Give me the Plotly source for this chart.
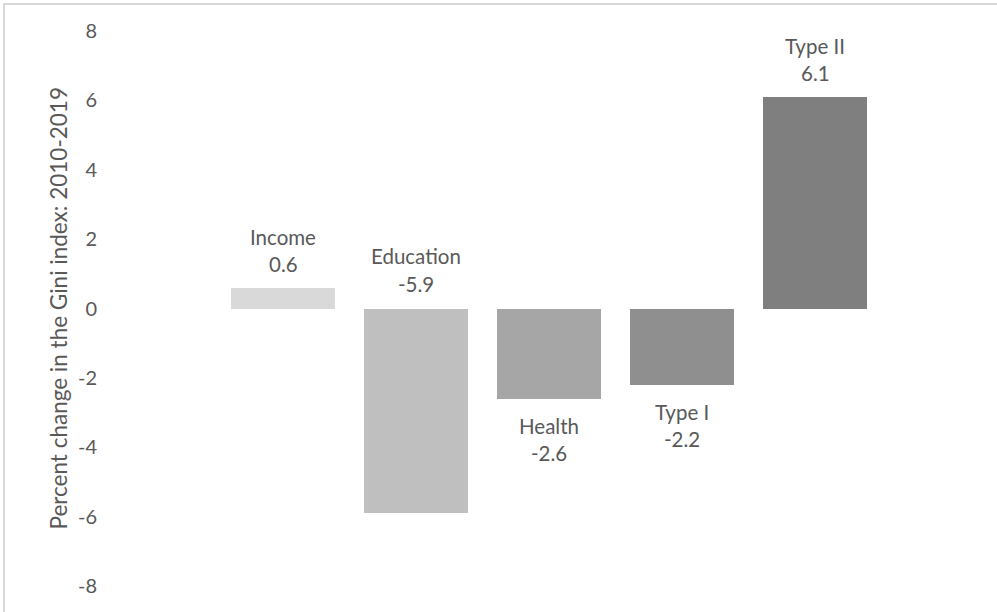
import plotly.graph_objects as go

categories = ["Income", "Education", "Health", "Type I", "Type II"]
values = [0.6, -5.9, -2.6, -2.2, 6.1]
value_labels = ["0.6", "-5.9", "-2.6", "-2.2", "6.1"]
colors = ["#D9D9D9", "#BFBFBF", "#A6A6A6", "#8F8F8F", "#7F7F7F"]
y_ticks = [-8, -6, -4, -2, 0, 2, 4, 6, 8]
y_title = "Percent change in the Gini index: 2010-2019"

W, H = 997, 612
L, R, T, B = 118, 47, 31, 26
pw = W - L - R
ph = H - T - B

FONT = "Lato, Open Sans, sans-serif"
TXT = "#595959"

xpos = list(range(len(categories)))

fig = go.Figure()
fig.add_trace(go.Bar(
    x=xpos, y=values, width=0.782,
    marker=dict(color=colors, line=dict(width=0)),
    hoverinfo="skip", showlegend=False,
))

# data labels (Education label sits just above the zero line, as in the source)
for i, (name, v, vl) in enumerate(zip(categories, values, value_labels)):
    if name == "Education":
        base = 0
        vshift, nshift = 25, 53
    elif v >= 0:
        base = v
        vshift, nshift = 23.5, 51
    else:
        base = v
        vshift, nshift = -54, -27
    fig.add_annotation(x=i, y=base, text=vl, showarrow=False, yanchor="middle",
                       yshift=vshift, font=dict(family=FONT, size=20.5, color=TXT))
    fig.add_annotation(x=i, y=base, text=name, showarrow=False, yanchor="middle",
                       yshift=nshift, font=dict(family=FONT, size=20.5, color=TXT))

# y-axis title
fig.add_annotation(xref="paper", yref="paper", x=(58 - L) / pw, y=0.5,
                   text=y_title, textangle=-90, showarrow=False,
                   xanchor="center", yanchor="middle",
                   font=dict(family=FONT, size=22.5, color=TXT))

# chart border
fig.add_shape(type="rect", xref="paper", yref="paper",
              x0=(4 - L) / pw, x1=(W + 10 - L) / pw,
              y0=(H - B - (H + 10)) / ph, y1=(H - B - 4) / ph,
              line=dict(color="#D9D9D9", width=2), fillcolor="rgba(0,0,0,0)")

x_left = 0 - (283 - L) / 133
x_right = (W - R - 283) / 133

fig.update_layout(
    width=W, height=H,
    margin=dict(l=L, r=R, t=T, b=B, pad=0),
    paper_bgcolor="white", plot_bgcolor="white",
    xaxis=dict(range=[x_left, x_right], showticklabels=False, showgrid=False,
               zeroline=False, showline=False, ticks=""),
    yaxis=dict(range=[-8, 8], tickvals=y_ticks, ticktext=[str(t) for t in y_ticks],
               showgrid=False, zeroline=False, showline=False, ticks="",
               ticklabelstandoff=20,
               tickfont=dict(family=FONT, size=20, color=TXT)),
    bargap=0,
)

fig.write_html("out.html")
